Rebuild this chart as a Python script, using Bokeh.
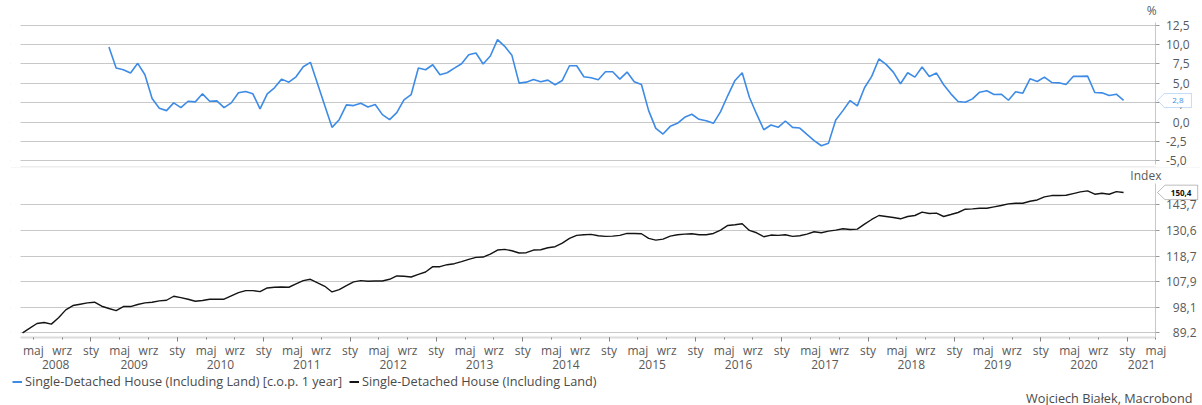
from bokeh.plotting import figure
from bokeh.models import (Range1d, FixedTicker, LinearAxis, Label, Legend, LegendItem,
                          PolyAnnotation, Span, BoxAnnotation)
from bokeh.layouts import column
from bokeh.embed import file_html
from bokeh.resources import INLINE

FONT = "Open Sans"
BLUE = "#3d8be6"
BLACK = "#141414"
TXT = "#595959"
GRID = "#c8c8c8"
TICK_FS = "12px"
LEG_FS = "12.7px"

# ---------------- data (monthly) ----------------
# Single-Detached House (Including Land) [c.o.p. 1 year], %, Mar 2009 .. Dec 2020
yoy_start_month = 14  # months since Jan 2008 -> Mar 2009
yoy_values = [
    9.70, 6.97, 6.75, 6.32, 7.58, 6.10, 3.03, 1.77, 1.47, 2.47,
    1.86, 2.68, 2.60, 3.64, 2.68, 2.73, 1.86, 2.47, 3.77, 3.94, 3.64, 1.69,
    3.64, 4.42, 5.54, 5.15, 5.84, 7.14, 7.71, 4.90, 2.10, -0.69, 0.30, 2.21,
    2.12, 2.42, 1.95, 2.25, 0.95, 0.30, 1.21, 2.86, 3.55, 6.97, 6.75, 7.40,
    6.10, 6.36, 6.97, 7.53, 8.70, 8.92, 7.49, 8.53, 10.65, 9.78, 8.61, 5.02,
    5.15, 5.50, 5.19, 5.41, 4.81, 5.37, 7.27, 7.27, 5.84, 5.71, 5.45, 6.49,
    6.49, 5.54, 6.45, 5.19, 4.85, 1.47, -0.82, -1.56, -0.56, -0.17, 0.61, 1.00,
    0.35, 0.17, -0.17, 1.34, 3.42, 5.37, 6.36, 3.20, 1.04, -1.00, -0.39, -0.69,
    0.13, -0.69, -0.78, -1.60, -2.40, -3.07, -2.73, 0.26, 1.47, 2.77, 2.08, 4.42,
    5.89, 8.14, 7.45, 6.45, 4.94, 6.36, 5.80, 7.10, 5.89, 6.32, 4.81, 3.64,
    2.64, 2.55, 2.99, 3.85, 4.03, 3.55, 3.59, 2.81, 3.90, 3.72, 5.58, 5.24,
    5.80, 5.11, 5.06, 4.85, 5.89, 5.89, 5.93, 3.81, 3.77, 3.42, 3.59, 2.80,
]

# Single-Detached House (Including Land), index, Mar 2008 .. Dec 2020
idx_start_month = 2  # Mar 2008
index_values = [
    89.20, 90.76, 92.35, 92.69, 92.12, 94.31, 97.15, 98.73, 99.22, 99.71,
    99.96, 98.48, 97.64, 96.90, 98.36, 98.36, 99.10, 99.71, 99.96, 100.45, 100.70, 102.21,
    101.70, 101.08, 100.33, 100.58, 101.08, 101.08, 101.08, 102.34, 103.61, 104.38, 104.38, 103.99,
    105.42, 105.69, 105.82, 105.69, 107.01, 108.33, 108.87, 107.41, 106.08, 103.86, 104.77, 106.35,
    107.81, 108.33, 108.07, 108.20, 108.20, 108.87, 110.23, 110.10, 109.82, 110.91, 111.87, 114.11,
    114.11, 114.96, 115.39, 116.25, 117.26, 118.14, 118.28, 119.61, 121.40, 121.70, 121.10, 120.06,
    120.21, 121.40, 121.55, 122.46, 122.92, 124.60, 126.78, 128.21, 128.52, 128.68, 128.05, 127.74,
    127.89, 128.21, 129.15, 129.15, 128.99, 126.78, 125.99, 126.47, 127.89, 128.52, 128.83, 128.99,
    128.52, 128.52, 129.15, 130.77, 133.06, 133.38, 133.88, 130.60, 129.47, 127.57, 128.37, 128.21,
    128.52, 127.74, 128.05, 128.83, 129.95, 129.47, 130.28, 130.77, 131.42, 131.09, 131.25, 133.71,
    136.05, 138.08, 137.57, 137.06, 136.39, 137.57, 138.08, 139.80, 139.11, 139.28, 137.57, 138.59,
    139.63, 141.37, 141.54, 141.89, 141.89, 142.59, 143.30, 144.19, 144.54, 144.54, 145.60, 146.30,
    147.99, 148.72, 148.72, 148.90, 149.82, 150.76, 151.32, 149.46, 150.02, 149.46, 150.90, 150.40,
]

pct_ticks = [-5.0, -2.5, 0.0, 2.5, 5.0, 7.5, 10.0, 12.5]
pct_tick_labels = ["-5,0", "-2,5", "\u20070,0", "\u20072,5", "\u20075,0", "\u20077,5", "10,0", "12,5"]
index_ticks = [89.2, 98.1, 107.9, 118.7, 130.6, 143.7]
index_tick_labels = ["\u200789,2", "\u200798,1", "107,9", "118,7", "130,6", "143,7"]
month_names = {0: "sty", 4: "maj", 8: "wrz"}
year_labels = [str(y) for y in range(2008, 2022)]

legend_blue = "Single-Detached House (Including Land) [c.o.p. 1 year]"
legend_black = "Single-Detached House (Including Land)"
credit = "Wojciech Białek, Macrobond"
last_yoy_label = "2,8"
last_index_label = "150,4"

# ---------------- geometry ----------------
W = 1200
LB = 10              # left border (px)
PXM = 7.196          # px per month
X0 = 2.21            # left edge of the visible chart area (months since Jan 2008)
XAX = 160.0          # position of the value axes (May 2021)
XV0 = X0 - (20 - LB) / PXM
XV1 = X0 + (W - 20) / PXM
xr = Range1d(XV0, XV1)

x_yoy = [yoy_start_month + i + 0.5 for i in range(len(yoy_values))]
x_idx = [idx_start_month + i + 0.5 for i in range(len(index_values))]


def style_right_axis(ax, bounds):
    ax.fixed_location = XAX
    ax.bounds = bounds
    ax.axis_line_color = GRID
    ax.major_tick_out = 4
    ax.major_tick_in = 0
    ax.minor_tick_out = 0
    ax.minor_tick_in = 0
    ax.major_tick_line_color = "#9a9a9a"
    ax.major_label_standoff = 6
    ax.major_label_text_font = FONT
    ax.major_label_text_font_size = TICK_FS
    ax.major_label_text_color = TXT


def masks(p):
    # keep grid lines between the chart's left edge and the value axis
    p.add_layout(BoxAnnotation(left=XAX, fill_color="white", fill_alpha=1.0,
                               line_color=None, level="underlay"))
    p.add_layout(BoxAnnotation(right=X0, fill_color="white", fill_alpha=1.0,
                               line_color=None, level="underlay"))


# ---------------- top panel ----------------
p1 = figure(width=W, height=168, x_range=xr, y_range=Range1d(-5.879, 15.70),
            output_backend="svg", toolbar_location=None,
            x_axis_location=None, y_axis_location="right",
            min_border_left=LB, min_border_right=0, min_border_top=0, min_border_bottom=1)
p1.outline_line_color = None
p1.xgrid.visible = False
p1.ygrid.grid_line_color = GRID
p1.yaxis.ticker = FixedTicker(ticks=pct_ticks)
p1.yaxis.major_label_overrides = dict(zip(pct_ticks, pct_tick_labels))
style_right_axis(p1.yaxis[0], (-5.45, 12.9))
p1.add_layout(Span(location=-5.82, dimension="width", line_color="#d9d9d9",
                   line_width=1, level="underlay"))
masks(p1)

blue_r = p1.line(x_yoy, yoy_values, line_color=BLUE, line_width=1.6)

p1.add_layout(Label(x=159.4, y=14.41, text="%", text_align="center", text_baseline="middle",
                    text_font=FONT, text_font_size=TICK_FS, text_color=TXT))
p1.add_layout(PolyAnnotation(xs=[160.21, 161.18, 164.93, 164.93, 161.18],
                             ys=[2.8, 3.68, 3.68, 1.87, 1.87],
                             fill_color="white", fill_alpha=1.0,
                             line_color=BLUE, line_width=1))
p1.add_layout(Label(x=163.05, y=2.8, text=last_yoy_label, text_align="center", text_baseline="middle",
                    text_font=FONT, text_font_size="8px", text_color=BLUE))

# ---------------- bottom panel ----------------
p2 = figure(width=W, height=205, x_range=xr, y_range=Range1d(87.65, 164.5), y_axis_type="log",
            output_backend="svg", toolbar_location=None, y_axis_location="right",
            min_border_left=LB, min_border_right=0, min_border_top=0, min_border_bottom=36)
p2.outline_line_color = None
p2.xgrid.visible = False
p2.ygrid.grid_line_color = GRID
p2.yaxis.ticker = FixedTicker(ticks=index_ticks)
p2.yaxis.major_label_overrides = dict(zip(index_ticks, index_tick_labels))
style_right_axis(p2.yaxis[0], (87.65, 155.6))
masks(p2)

month_ticks = list(range(4, 161, 4))
jan_ticks = list(range(12, 161, 12))
xa = p2.xaxis[0]
xa.ticker = FixedTicker(ticks=month_ticks, minor_ticks=jan_ticks)
xa.major_label_overrides = {t: month_names[t % 12] for t in month_ticks}
xa.bounds = (X0, XAX)
xa.axis_line_color = "#dcdcdc"
xa.axis_line_width = 2
xa.major_tick_out = 2
xa.major_tick_in = 0
xa.minor_tick_out = 4
xa.minor_tick_in = 0
xa.major_tick_line_color = "#808080"
xa.minor_tick_line_color = "#808080"
xa.major_label_standoff = 0
xa.major_label_text_font = FONT
xa.major_label_text_font_size = TICK_FS
xa.major_label_text_color = TXT

year_pos = [(X0 + 12) / 2] + [12 * k + 6 for k in range(1, 13)] + [(156 + XAX) / 2]
ya = LinearAxis(ticker=FixedTicker(ticks=year_pos),
                major_label_overrides=dict(zip(year_pos, year_labels)),
                axis_line_color=None, major_tick_line_color=None, minor_tick_line_color=None,
                major_tick_out=0, major_tick_in=0, major_label_standoff=-2,
                major_label_text_font=FONT, major_label_text_font_size=TICK_FS,
                major_label_text_color=TXT)
p2.add_layout(ya, "below")

black_r = p2.line(x_idx, index_values, line_color=BLACK, line_width=1.4)

p2.add_layout(Label(x=158.6, y=160.2, text="Index", text_align="center", text_baseline="middle",
                    text_font=FONT, text_font_size=TICK_FS, text_color=TXT))
p2.add_layout(PolyAnnotation(xs=[160.21, 161.25, 165.8, 165.8, 161.25],
                             ys=[150.4, 154.6, 154.6, 146.5, 146.5],
                             fill_color="white", fill_alpha=1.0,
                             line_color="#222222", line_width=1))
p2.add_layout(Label(x=163.5, y=150.4, text=last_index_label, text_align="center", text_baseline="middle",
                    text_font=FONT, text_font_size="8px", text_font_style="bold", text_color="#111111"))

# ---------------- legend + credit strip ----------------
p3 = figure(width=W, height=32, x_range=Range1d(LB, W), y_range=Range1d(0, 32),
            output_backend="svg", toolbar_location=None,
            x_axis_location=None, y_axis_location=None,
            min_border_left=LB, min_border_right=0, min_border_top=0, min_border_bottom=0)
p3.outline_line_color = None
p3.grid.visible = False
nan = float("nan")
leg_blue = p3.line(x=[nan], y=[nan], line_color=BLUE, line_width=2)
leg_black = p3.line(x=[nan], y=[nan], line_color=BLACK, line_width=2)
legend = Legend(items=[LegendItem(label=legend_blue, renderers=[leg_blue]),
                       LegendItem(label=legend_black, renderers=[leg_black])],
                orientation="horizontal", location=(12 - LB, 15),
                glyph_width=10, glyph_height=17, label_standoff=3, spacing=7,
                padding=0, margin=0, border_line_color=None, background_fill_alpha=0,
                label_text_font=FONT, label_text_font_size=LEG_FS, label_text_color="#4a4a4a")
p3.add_layout(legend)
p3.add_layout(Label(x=1192, y=8, text=credit, text_align="right", text_baseline="middle",
                    text_font=FONT, text_font_size=LEG_FS, text_color="#4a4a4a"))

for p in (p1, p2, p3):
    p.background_fill_color = "white"
    p.border_fill_color = "white"

layout = column(p1, p2, p3, spacing=0)
open("out.html", "w").write(file_html(layout, INLINE))
